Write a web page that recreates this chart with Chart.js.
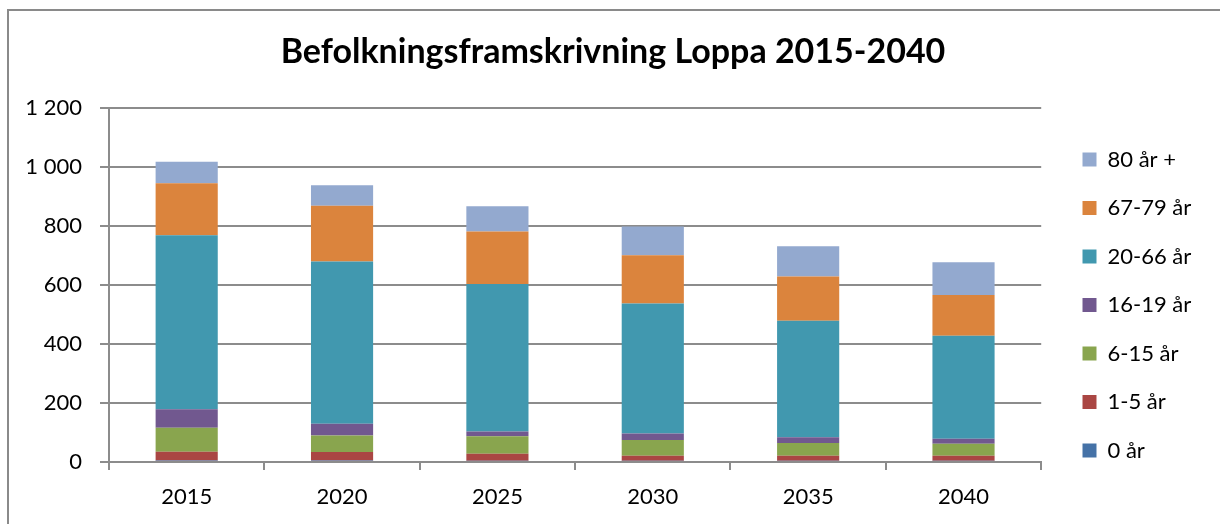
<!DOCTYPE html>
<html>
<head>
<meta charset="utf-8">
<script src="https://cdn.jsdelivr.net/npm/chart.js@4/dist/chart.umd.min.js"></script>
<style>
  html, body { margin: 0; padding: 0; background: #fff; overflow: hidden; }
  #frame { position: absolute; left: 7px; top: 9px; width: 1400px; height: 700px;
           border-left: 2px solid #8a8a8a; border-top: 2px solid #8a8a8a; }
  #wrap { position: absolute; left: 0; top: 0; width: 1220px; height: 524px; }
</style>
</head>
<body>
<div id="frame"></div>
<div id="wrap"><canvas id="c" width="1220" height="524"></canvas></div>
<script>
const chartTitle = 'Befolkningsframskrivning Loppa 2015-2040';
const categories = ['2015', '2020', '2025', '2030', '2035', '2040'];
const seriesNames = ['0 år', '1-5 år', '6-15 år', '16-19 år', '20-66 år', '67-79 år', '80 år +'];
const age0     = [5, 5, 4, 4, 4, 4];
const age1_5   = [30, 29, 24, 17, 17, 17];
const age6_15  = [81, 56, 59, 54, 43, 41];
const age16_19 = [63, 40, 16, 22, 20, 17];
const age20_66 = [590, 550, 500, 440, 395, 349];
const age67_79 = [176, 189, 178, 164, 150, 138];
const age80    = [73, 69, 86, 97, 102, 111];
const yTicks = [0, 200, 400, 600, 800, 1000, 1200];
const colors = ['#4572A7', '#AA4643', '#89A54E', '#71588F', '#4198AF', '#DB843D', '#93A9CF'];

const seriesValues = [age0, age1_5, age6_15, age16_19, age20_66, age67_79, age80];
const FONT = 'Lato, "Open Sans", sans-serif';
const GRID = '#8c8c8c';
const LEGEND_W = 163;

const datasets = seriesValues.map((vals, i) => ({
  label: seriesNames[i],
  data: vals,
  backgroundColor: colors[i],
  borderWidth: 0,
  barPercentage: 0.4,
  categoryPercentage: 1.0,
  yAxisID: 'y'
}));

function fmt(v) {
  return String(v).replace(/\B(?=(\d{3})+(?!\d))/g, ' ');
}

const legendWidthPlugin = {
  id: 'legendWidth',
  beforeLayout(chart) {
    const lg = chart.legend;
    if (lg && !lg._fixedW) {
      const f = lg.fit;
      lg.fit = function () { f.call(this); if (this.options.display) this.width = LEGEND_W; };
      lg._fixedW = true;
    }
  }
};

new Chart(document.getElementById('c'), {
  type: 'bar',
  data: { labels: categories, datasets: datasets },
  plugins: [legendWidthPlugin],
  options: {
    responsive: false,
    animation: false,
    devicePixelRatio: 1,
    layout: { padding: { left: 7, right: 1, top: 9, bottom: 14 } },
    plugins: {
      title: {
        display: true,
        text: chartTitle,
        color: '#000',
        font: { family: FONT, size: 34, weight: 'bold', lineHeight: 1.2 },
        padding: { top: 22.6, bottom: 35.6 }
      },
      legend: {
        display: true,
        position: 'right',
        align: 'start',
        reverse: true,
        title: { display: true, text: '', font: { size: 10, lineHeight: 1 }, padding: { top: 103, bottom: 0 } },
        labels: {
          color: '#000',
          font: { family: FONT, size: 22 },
          boxWidth: 14,
          boxHeight: 14,
          padding: 26.5
        }
      },
      tooltip: { enabled: false }
    },
    scales: {
      x: {
        stacked: true,
        offset: true,
        afterFit: (s) => { s.height = 48; },
        grid: {
          display: true,
          offset: true,
          drawOnChartArea: false,
          drawTicks: true,
          tickLength: 8,
          color: GRID,
          lineWidth: 2
        },
        border: { display: true, color: GRID, width: 2 },
        ticks: { color: '#000', font: { family: FONT, size: 22 }, padding: 14, maxRotation: 0 }
      },
      y: {
        stacked: true,
        min: 0,
        max: 1200,
        afterBuildTicks: (s) => { s.ticks = yTicks.map(v => ({ value: v })); },
        afterFit: (s) => { s.width = 102; },
        grid: {
          color: GRID,
          lineWidth: 2,
          drawTicks: true,
          tickLength: 9
        },
        border: { display: true, color: GRID, width: 2 },
        ticks: {
          color: '#000',
          font: { family: FONT, size: 22 },
          padding: 18,
          callback: (v) => fmt(v)
        }
      },
      gap: {
        type: 'linear',
        position: 'right',
        display: true,
        grid: { display: false, drawTicks: false },
        border: { display: false },
        ticks: { display: false },
        afterFit: (s) => { s.width = 14.8; }
      }
    }
  }
});
</script>
</body>
</html>
